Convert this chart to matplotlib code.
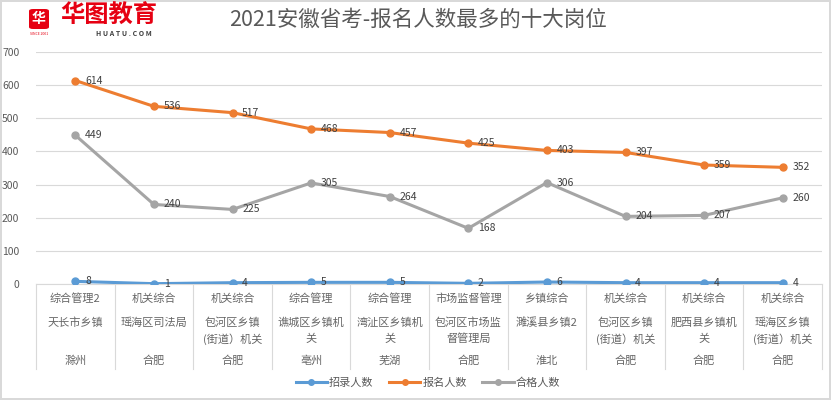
import matplotlib
matplotlib.use('Agg')
import matplotlib.pyplot as plt
from matplotlib.patches import FancyBboxPatch
from matplotlib.lines import Line2D

plt.rcParams['font.family'] = ['Noto Sans CJK SC', 'DejaVu Sans']

# data
jobs = ['综合管理2', '机关综合', '机关综合', '综合管理', '综合管理',
        '市场监督管理', '乡镇综合', '机关综合', '机关综合', '机关综合']
units = ['天长市乡镇', '瑶海区司法局', '包河区乡镇\n(街道）机关', '谯城区乡镇机\n关',
         '湾沚区乡镇机\n关', '包河区市场监\n督管理局', '濉溪县乡镇2', '包河区乡镇\n(街道）机关',
         '肥西县乡镇机\n关', '瑶海区乡镇\n(街道）机关']
cities = ['滁州', '合肥', '合肥', '亳州', '芜湖', '合肥', '淮北', '合肥', '合肥', '合肥']
hired = [8, 1, 4, 5, 5, 2, 6, 4, 4, 4]
applied = [614, 536, 517, 468, 457, 425, 403, 397, 359, 352]
qualified = [449, 240, 225, 305, 264, 168, 306, 204, 207, 260]

W, H = 831, 400
fig = plt.figure(figsize=(W / 100, H / 100), dpi=100)
fig.patch.set_edgecolor('#d9d9d9')
fig.patch.set_linewidth(1.5)

left, right, top, bottom = 36, 822, 52, 284
ax = fig.add_axes([left / W, 1 - bottom / H, (right - left) / W, (bottom - top) / H])

n = len(jobs)
x = list(range(n))
series = [(hired, '招录人数', '#5b9bd5'),
          (applied, '报名人数', '#ed7d31'),
          (qualified, '合格人数', '#a5a5a5')]
for vals, name, col in series:
    ax.plot(x, vals, color=col, lw=2.2, marker='o', ms=5, label=name, zorder=3)
    for xi, v in zip(x, vals):
        ax.annotate(str(v), (xi, v), xytext=(7, 0), textcoords='offset points',
                    ha='left', va='center', fontsize=7.5, color='#404040', zorder=4)

ax.set_xlim(-0.5, n - 0.5)
ax.set_ylim(0, 700)
ax.set_yticks(range(0, 701, 100))
ax.yaxis.grid(True, color='#d9d9d9', lw=0.8)
ax.set_axisbelow(True)
ax.tick_params(axis='y', length=0, labelsize=7.5, labelcolor='#595959', pad=12)
ax.set_xticks([])
for s in ['top', 'right', 'left']:
    ax.spines[s].set_visible(False)
ax.spines['bottom'].set_color('#d9d9d9')

# multi-level category axis
trans = ax.get_xaxis_transform()
px = 1.0 / (bottom - top)
for i in range(n + 1):
    ax.add_line(Line2D([i - 0.5, i - 0.5], [0, -(369 - bottom) * px], transform=trans,
                       color='#d9d9d9', lw=0.8, clip_on=False))
for i in range(n):
    ax.text(i, -(299 - bottom) * px, jobs[i], transform=trans, ha='center', va='center',
            fontsize=8, color='#666666')
    lines = units[i].split('\n')
    for k, ln in enumerate(lines):
        ax.text(i, -(323 + 16 * k - bottom) * px, ln, transform=trans, ha='center',
                va='center', fontsize=8, color='#666666')
    ax.text(i, -(361 - bottom) * px, cities[i], transform=trans, ha='center', va='center',
            fontsize=8, color='#666666')

# legend
ax.legend(loc='center', bbox_to_anchor=(428 / W, 1 - 383 / H), bbox_transform=fig.transFigure,
          ncol=3, frameon=False, fontsize=8, labelcolor='#595959', handlelength=2.8,
          handletextpad=0.2, columnspacing=1.4, markerscale=0.8)

# title
fig.text(418 / W, 1 - 20 / H, '2021安徽省考-报名人数最多的十大岗位', ha='center', va='center',
         fontsize=15.5, color='#595959')

# logo
fig.patches.append(FancyBboxPatch((29 / W, 1 - 29 / H), 20 / W, 20 / H,
                                  boxstyle='round,pad=0,rounding_size=0.005',
                                  transform=fig.transFigure, fc='#e60012', ec='none'))
fig.text(39 / W, 1 - 19 / H, '华', ha='center', va='center', fontsize=10, color='white',
         fontweight='bold')
fig.text(39 / W, 1 - 34 / H, 'SINCE 2001', ha='center', va='center', fontsize=2.5,
         color='#e60012')
fig.text(60 / W, 1 - 16 / H, '华图教育', ha='left', va='center', fontsize=17.5,
         color='#e60012', fontweight='bold')
fig.text(96 / W, 1 - 33 / H, 'H U A T U . C O M', ha='left', va='center', fontsize=5,
         color='#404040', fontweight='bold')

fig.savefig('out.png', dpi=100)
